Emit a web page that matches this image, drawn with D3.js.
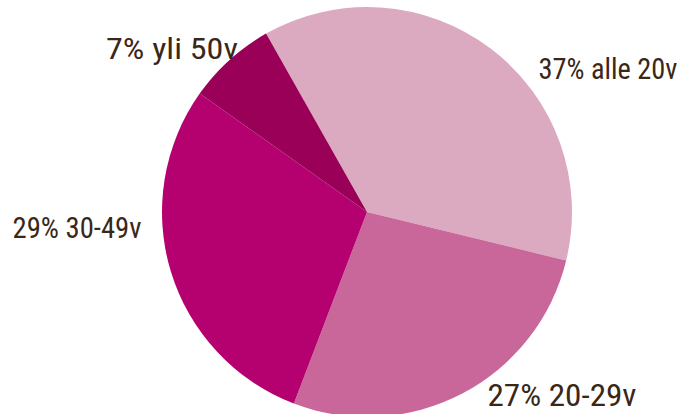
<!DOCTYPE html>
<html>
<head>
<meta charset="utf-8">
<script src="https://cdn.jsdelivr.net/npm/d3@7"></script>
<style>
  body { margin: 0; background: #fff; }
</style>
</head>
<body>
<svg class="vis" width="682" height="414"></svg>
<script>
// age groups, share of respondents (%)
var groups = ["alle 20v", "20-29v", "30-49v", "yli 50v"];
var shares = [37, 27, 29, 7];
var sliceColors = ["#dcaac0", "#c9679a", "#b5006f", "#9a0058"];

var svg = d3.select(".vis");
var cx = 367, cy = 212, radius = 205;
var start = -29.5 * Math.PI / 180;

var pie = d3.pie()
    .sort(null)
    .value(d => d.value)
    .startAngle(start)
    .endAngle(start + 2 * Math.PI);

var data = groups.map((g, i) => ({ name: g, value: shares[i] }));
var arcs = pie(data);

var arc = d3.arc()
    .innerRadius(0)
    .outerRadius(radius);

var color = d3.scaleOrdinal()
    .domain(groups)
    .range(sliceColors);

svg.append("g")
    .attr("transform", `translate(${cx}, ${cy})`)
    .selectAll("path")
    .data(arcs)
    .join("path")
    .attr("d", arc)
    .attr("fill", d => color(d.data.name));

// labels are placed by hand around the pie (x = text centre, y = baseline)
var labelPos = [
    { x: 608, y: 79, size: 29, len: 139 },
    { x: 562, y: 406, size: 31, len: 149 },
    { x: 77, y: 238, size: 29, len: 129 },
    { x: 172, y: 59, size: 29, len: 132 }
];

svg.selectAll(".label")
    .data(arcs)
    .join("text")
    .attr("class", "label")
    .attr("x", (d, i) => labelPos[i].x)
    .attr("y", (d, i) => labelPos[i].y)
    .attr("text-anchor", "middle")
    .attr("font-family", "'Roboto Condensed', 'Liberation Sans Narrow', 'DejaVu Sans Condensed', sans-serif")
    .attr("font-size", (d, i) => labelPos[i].size + "px")
    .attr("textLength", (d, i) => labelPos[i].len)
    .attr("lengthAdjust", "spacingAndGlyphs")
    .attr("fill", "#3a2718")
    .text(d => d.data.value + "% " + d.data.name);
</script>
</body>
</html>
